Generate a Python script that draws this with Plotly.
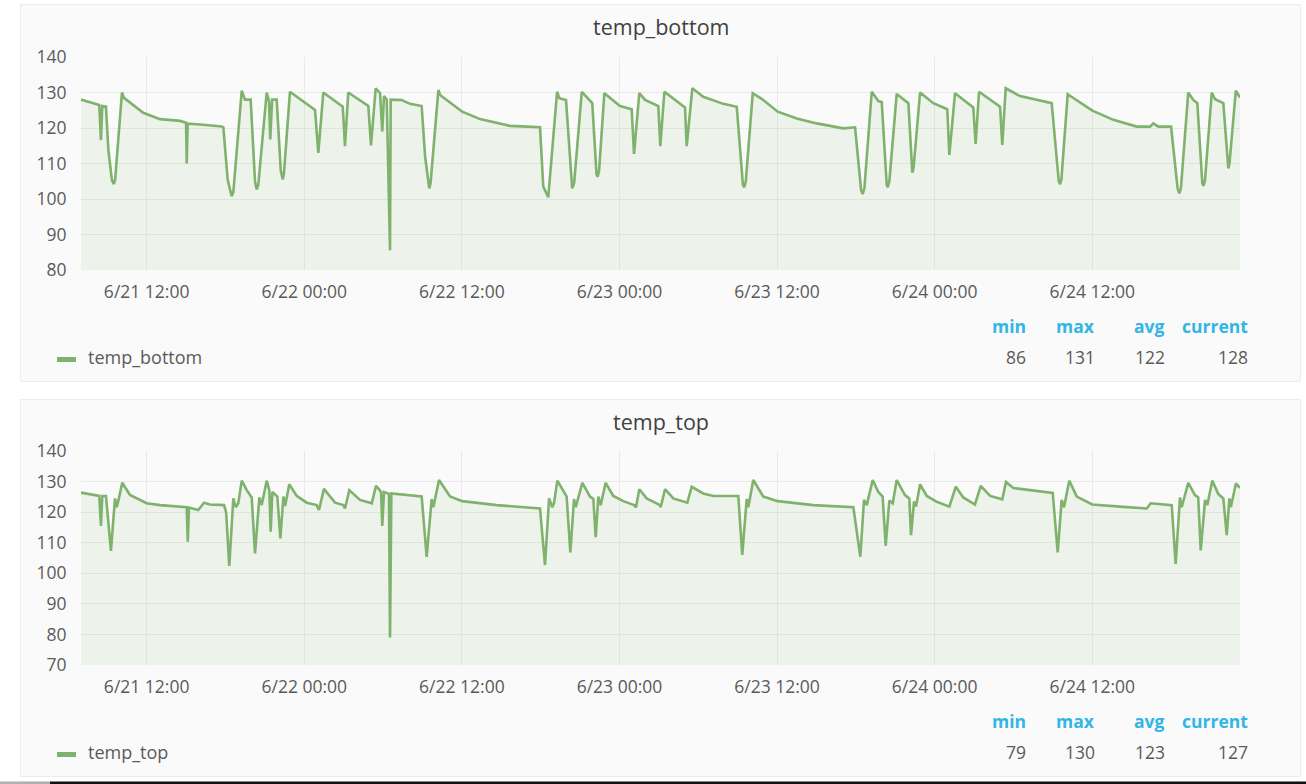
import pandas as pd
import plotly.graph_objects as go

# ---------------- data (hours since 2019-06-21 00:00, value) ----------------
BASE = pd.Timestamp("2019-06-21 00:00")

bottom_hours = [7.00, 8.39, 8.52, 8.62, 8.90, 9.08, 9.35, 9.49, 9.60, 10.12, 10.27, 11.74, 13.02, 14.54, 15.00, 15.05, 15.12,
                16.06, 17.71, 17.84, 18.17, 18.47, 18.60, 19.24, 19.49, 19.92, 20.25, 20.38, 20.50, 21.14, 21.32, 21.41,
                21.55, 21.90, 22.21, 22.36, 22.45, 22.91, 24.82, 25.07, 25.45, 26.93, 27.10, 27.35, 28.88, 29.08, 29.44,
                29.77, 29.94, 30.07, 30.28, 30.53, 30.58, 31.42, 32.05, 32.94, 33.20, 33.45, 33.52, 33.62, 34.21, 34.34,
                36.03, 37.38, 39.67, 41.95, 42.20, 42.58, 43.25, 43.42, 43.93, 44.40, 44.55, 45.13, 45.93, 46.25, 46.34,
                46.45, 46.85, 48.04, 48.93, 49.11, 49.51, 49.95, 50.96, 51.11, 51.42, 52.99, 53.12, 53.55, 54.38, 55.91,
                56.93, 57.40, 57.51, 57.62, 58.15, 58.95, 60.05, 61.50, 63.02, 65.04, 65.94, 66.40, 66.52, 66.65, 67.21,
                67.71, 67.97, 68.35, 68.43, 68.55, 69.11, 70.00, 70.25, 70.30, 70.40, 70.89, 71.90, 72.96, 73.12, 73.55,
                74.94, 75.12, 75.38, 76.98, 77.15, 77.41, 78.50, 79.51, 80.91, 81.45, 81.55, 81.65, 82.13, 84.01, 85.61,
                87.39, 88.40, 88.65, 89.03, 90.00, 90.50, 90.63, 90.75, 91.31, 91.69, 92.00, 92.38, 92.46, 92.58, 93.10,
                93.35, 93.98, 94.28, 94.36, 94.45, 94.93, 95.25]
bottom_vals = [128.0, 126.5, 116.6, 126.2, 126.0, 114.0, 105.4, 104.2, 105.5, 130.0, 128.5, 124.3, 122.5, 122.0, 121.5, 110.0, 121.2,
               121.0, 120.4, 120.2, 105.4, 100.8, 102.0, 130.5, 128.0, 128.0, 105.0, 102.7, 104.0, 130.0, 127.5, 116.8,
               128.0, 128.0, 108.0, 105.5, 107.0, 130.2, 125.1, 113.0, 130.0, 126.0, 114.9, 130.0, 126.2, 115.1, 131.2,
               129.8, 119.0, 129.0, 128.0, 85.6, 128.0, 127.9, 126.8, 126.2, 112.0, 103.5, 103.0, 104.5, 130.7, 129.3,
               124.6, 122.5, 120.6, 120.2, 103.5, 100.5, 130.2, 128.4, 127.9, 103.0, 104.5, 130.2, 127.0, 107.0, 106.3,
               108.0, 129.8, 126.2, 125.3, 112.7, 129.8, 127.9, 126.2, 114.9, 130.2, 125.8, 114.9, 131.2, 128.8, 126.8,
               126.0, 104.0, 103.3, 105.0, 129.8, 127.9, 124.6, 122.7, 121.3, 119.9, 120.2, 102.5, 101.4, 103.0, 130.2,
               127.6, 127.3, 104.0, 103.3, 105.0, 129.6, 127.0, 108.0, 107.4, 109.0, 130.0, 127.0, 125.3, 112.4, 129.8,
               125.8, 115.5, 130.2, 126.0, 115.2, 131.2, 129.0, 128.1, 127.0, 105.0, 104.2, 105.5, 129.5, 124.9, 122.3,
               120.4, 120.4, 121.3, 120.4, 120.4, 103.0, 101.6, 103.0, 130.0, 127.9, 127.0, 104.5, 103.7, 105.0, 130.0,
               128.1, 127.0, 110.0, 108.6, 110.0, 130.5, 128.6]

top_hours = [7.00, 7.91, 8.39, 8.52, 8.62, 8.90, 9.28, 9.59, 9.72, 9.86, 10.14, 10.73, 12.00, 13.02, 14.79, 15.05, 15.13, 15.22,
             15.93, 16.37, 16.82, 17.89, 18.05, 18.29, 18.60, 18.78, 18.98, 19.24, 19.62, 20.00, 20.25, 20.58, 20.76, 21.14,
             21.34, 21.44, 21.57, 21.95, 22.18, 22.41, 22.54, 22.86, 23.42, 24.19, 24.95, 25.12, 25.50, 26.34, 26.97, 27.10,
             27.43, 28.24, 29.14, 29.46, 29.71, 29.85, 29.94, 30.07, 30.45, 30.53, 30.63, 32.81, 32.94, 33.32, 33.70, 33.83,
             34.26, 35.10, 36.03, 38.65, 41.95, 42.33, 42.64, 42.89, 43.02, 43.27, 43.98, 44.26, 44.54, 44.67, 45.17, 45.76,
             46.01, 46.19, 46.39, 46.57, 46.95, 47.53, 48.29, 49.11, 49.26, 49.51, 50.07, 51.09, 51.14, 51.47, 52.10, 53.17,
             53.50, 54.38, 55.15, 57.05, 57.35, 57.69, 57.81, 58.19, 58.95, 60.05, 62.76, 65.81, 66.34, 66.62, 66.83, 67.28,
             67.71, 68.04, 68.27, 68.55, 68.81, 69.11, 69.74, 70.07, 70.20, 70.43, 70.58, 70.89, 71.40, 72.16, 73.12, 73.61,
             74.18, 75.07, 75.51, 76.22, 77.15, 77.43, 77.99, 78.50, 80.02, 80.99, 81.37, 81.67, 81.85, 82.25, 82.82, 84.00,
             86.11, 88.15, 88.45, 90.05, 90.35, 90.68, 90.81, 91.31, 91.82, 92.07, 92.26, 92.59, 92.76, 93.14, 93.60, 93.98,
             94.24, 94.44, 94.55, 94.71, 94.94, 95.25]
top_vals = [126.4, 125.8, 125.3, 115.5, 125.3, 125.3, 107.3, 124.5, 121.6, 124.0, 129.6, 125.6, 122.9, 122.3, 121.8, 121.6, 110.3, 121.5,
            120.7, 123.1, 122.5, 122.3, 120.0, 102.4, 124.5, 121.6, 123.0, 130.3, 127.2, 124.8, 106.5, 124.8, 122.3, 130.3,
            127.2, 113.6, 126.6, 125.1, 111.4, 125.1, 122.0, 129.1, 125.3, 123.1, 122.3, 120.7, 127.6, 123.1, 122.3, 121.2,
            127.2, 124.0, 122.9, 128.6, 127.4, 126.5, 115.5, 126.6, 126.0, 79.0, 126.1, 125.3, 125.1, 105.4, 124.3, 121.6,
            130.5, 125.1, 123.6, 122.3, 121.2, 102.7, 124.5, 121.6, 123.0, 130.3, 125.1, 106.8, 124.3, 121.6, 129.6, 125.1,
            124.3, 111.8, 125.1, 122.3, 129.6, 125.3, 123.6, 122.3, 121.6, 127.5, 124.5, 122.3, 121.6, 127.5, 124.5, 123.1,
            128.3, 126.1, 125.3, 125.3, 106.0, 124.3, 121.6, 130.5, 125.1, 123.6, 122.3, 121.6, 105.4, 124.0, 122.3, 130.5,
            126.6, 125.1, 109.0, 123.8, 122.9, 130.5, 125.6, 124.5, 112.5, 123.5, 121.8, 129.1, 125.3, 123.4, 121.8, 128.3,
            124.8, 122.5, 128.6, 125.3, 124.2, 129.9, 127.9, 127.6, 126.8, 126.3, 106.8, 124.0, 121.6, 130.3, 125.1, 122.5,
            121.8, 121.2, 122.9, 122.3, 103.1, 124.8, 121.6, 129.6, 125.6, 124.8, 107.5, 124.0, 122.3, 130.3, 125.9, 124.5,
            112.5, 124.5, 121.6, 124.5, 129.4, 127.9]

panel_titles = ["temp_bottom", "temp_top"]
stat_names = ["min", "max", "avg", "current"]
bottom_stats = [86, 131, 122, 128]
top_stats = [79, 130, 123, 127]

x_tick_times = ["2019-06-21 12:00", "2019-06-22 00:00", "2019-06-22 12:00", "2019-06-23 00:00",
                "2019-06-23 12:00", "2019-06-24 00:00", "2019-06-24 12:00"]
x_tick_labels = ["6/21 12:00", "6/22 00:00", "6/22 12:00", "6/23 00:00", "6/23 12:00", "6/24 00:00", "6/24 12:00"]
y1_ticks = [80, 90, 100, 110, 120, 130, 140]
y2_ticks = [70, 80, 90, 100, 110, 120, 130, 140]
x_range = ["2019-06-21 07:00", "2019-06-24 23:15"]

# ---------------- styling ----------------
W, H = 1306, 784
GREEN = "#7eb26d"
FILL = "rgba(126,178,109,0.10)"
TXT = "#5a5a5a"
BLUE = "#33b5e5"
GRID = "#e9e9e9"
FONT = "Open Sans"


def px(x):
    return x / W


def py(y):
    return 1 - y / H


def to_time(hours):
    return [BASE + pd.Timedelta(hours=h) for h in hours]


fig = go.Figure()
fig.add_trace(go.Scatter(x=to_time(bottom_hours), y=bottom_vals, mode="lines", name="temp_bottom",
                         line=dict(color=GREEN, width=2.6), fill="tozeroy", fillcolor=FILL,
                         xaxis="x", yaxis="y", showlegend=False, hoverinfo="skip"))
fig.add_trace(go.Scatter(x=to_time(top_hours), y=top_vals, mode="lines", name="temp_top",
                         line=dict(color=GREEN, width=2.6), fill="tozeroy", fillcolor=FILL,
                         xaxis="x2", yaxis="y2", showlegend=False, hoverinfo="skip"))

xcommon = dict(type="date", range=x_range, tickvals=x_tick_times, ticktext=x_tick_labels,
               showgrid=True, gridcolor=GRID, gridwidth=1, zeroline=False, showline=False,
               ticks="outside", ticklen=6, tickcolor="rgba(0,0,0,0)", automargin=False,
               tickfont=dict(family=FONT, size=17.5, color=TXT),
               domain=[px(81), px(1240)])
ycommon = dict(showgrid=True, gridcolor=GRID, gridwidth=1, zeroline=False, showline=False,
               ticks="outside", ticklen=10, tickcolor="rgba(0,0,0,0)", automargin=False,
               tickfont=dict(family=FONT, size=17.5, color=TXT))

panel_off = [0, 395]
shapes = []
annotations = []
for i, off in enumerate(panel_off):
    shapes.append(dict(type="rect", xref="paper", yref="paper", layer="below",
                       x0=px(20.5), x1=px(1300.5), y0=py(381.5 + off), y1=py(4.5 + off),
                       fillcolor="#fafafa", line=dict(color="#ececec", width=1)))
    annotations.append(dict(text=panel_titles[i], xref="paper", yref="paper", x=px(661), y=py(27 + off),
                            xanchor="center", yanchor="middle", showarrow=False,
                            font=dict(family=FONT, size=21.5, color="#404040")))
    # legend swatch + label
    shapes.append(dict(type="line", xref="paper", yref="paper", x0=px(57), x1=px(76),
                       y0=py(359.5 + off), y1=py(359.5 + off), line=dict(color=GREEN, width=5)))
    annotations.append(dict(text=panel_titles[i], xref="paper", yref="paper", x=px(86), y=py(357 + off),
                            xanchor="left", yanchor="middle", showarrow=False,
                            font=dict(family=FONT, size=18, color=TXT)))
    stats = bottom_stats if i == 0 else top_stats
    for name, val, xr in zip(stat_names, stats, [1028, 1097, 1167, 1250]):
        annotations.append(dict(text="<b>%s</b>" % name, xref="paper", yref="paper", x=px(xr), y=py(326 + off),
                                xanchor="right", yanchor="middle", showarrow=False,
                                font=dict(family=FONT, size=17.5, color=BLUE)))
        annotations.append(dict(text=str(val), xref="paper", yref="paper", x=px(xr), y=py(357 + off),
                                xanchor="right", yanchor="middle", showarrow=False,
                                font=dict(family=FONT, size=17.5, color=TXT)))

# screen edge artefact at the very bottom
shapes.append(dict(type="rect", xref="paper", yref="paper", x0=0, x1=px(50), y0=0, y1=py(781.5),
                   fillcolor="#b0b0b0", line=dict(width=0)))
shapes.append(dict(type="rect", xref="paper", yref="paper", x0=px(50), x1=1, y0=0, y1=py(781.5),
                   fillcolor="#111111", line=dict(width=0)))

fig.update_layout(
    width=W, height=H, margin=dict(l=0, r=0, t=0, b=0, pad=0, autoexpand=False),
    paper_bgcolor="#ffffff", plot_bgcolor="#fafafa",
    showlegend=False,
    xaxis=dict(xcommon, anchor="y"),
    xaxis2=dict(xcommon, anchor="y2"),
    yaxis=dict(ycommon, range=[80, 140], tickvals=y1_ticks, anchor="x",
               domain=[py(270), py(57)]),
    yaxis2=dict(ycommon, range=[70, 140], tickvals=y2_ticks, anchor="x2",
                domain=[py(665), py(451)]),
    shapes=shapes, annotations=annotations,
)

fig.write_html("out.html")
